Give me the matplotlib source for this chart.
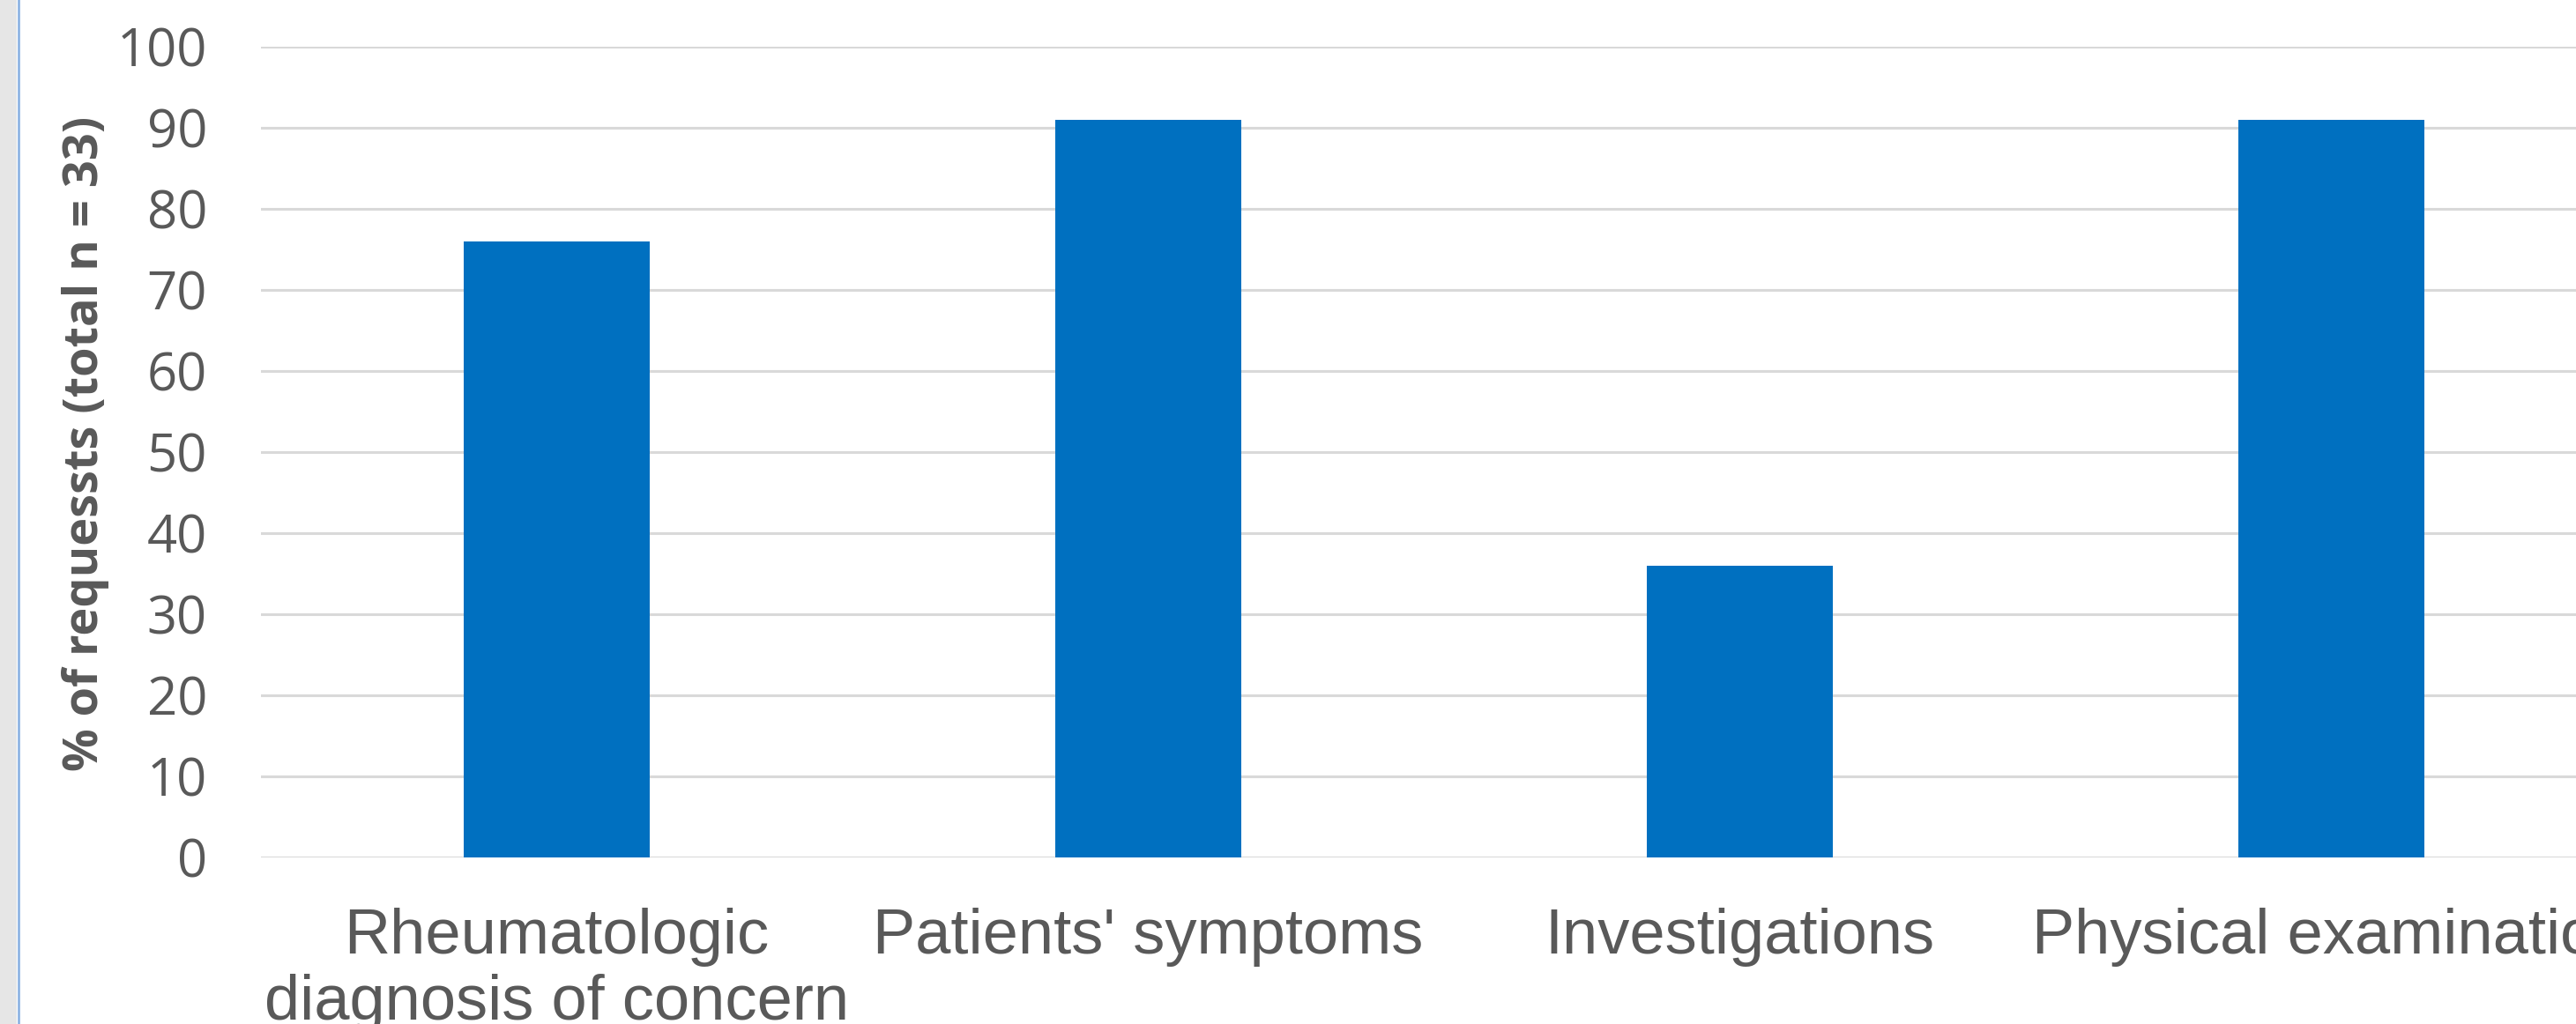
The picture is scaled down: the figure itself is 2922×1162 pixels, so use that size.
"""Bar chart of request content percentages"""

import matplotlib.pyplot as plt
from matplotlib.patches import Rectangle
from matplotlib.lines import Line2D

categories = ["Rheumatologic\ndiagnosis of concern", "Patients' symptoms",
              "Investigations", "Physical examination"]
percent = [76, 91, 36, 91]
yticks = list(range(0, 101, 10))

TEXT = "#595959"

fig = plt.figure(figsize=(29.22, 11.62), dpi=100)
fig.patch.set_facecolor("white")

# grey margin strip with a thin blue border on the left
fig.add_artist(Rectangle((0, 0), 19 / 2922, 1, transform=fig.transFigure,
                         facecolor="#e6e6e6", edgecolor="none"))
fig.add_artist(Line2D([20.5 / 2922, 20.5 / 2922], [0, 1], transform=fig.transFigure,
                      color="#8eb4e3", linewidth=2))

# axes runs off the right edge a little
ax = fig.add_axes([296 / 2922, 1 - 973 / 1162, 2684 / 2922, 920 / 1162])

x = range(len(categories))
ax.bar(x, percent, width=0.315, color="#0070c0", zorder=3)

ax.set_xlim(-0.5, 3.5)
ax.set_ylim(0, 100)
ax.set_yticks(yticks)
ax.yaxis.grid(True, color="#d9d9d9", linewidth=2.2)
ax.set_axisbelow(True)
for s in ax.spines.values():
    s.set_visible(False)

ax.tick_params(axis="y", length=0, pad=44, labelsize=43, labelcolor=TEXT)
for t in ax.get_yticklabels():
    t.set_fontfamily("Open Sans")

ax.set_xticks(list(x))
ax.set_xticklabels(categories, fontsize=52, color=TEXT, family="Liberation Sans",
                   linespacing=1.15)
ax.tick_params(axis="x", length=0, pad=41)

fig.text(97 / 2922, 1 - 503 / 1162, "% of requessts (total n = 33)", rotation=90,
         ha="center", va="center", fontsize=39, fontweight="bold", color=TEXT,
         family="Open Sans")

fig.savefig("out.png", dpi=100)
